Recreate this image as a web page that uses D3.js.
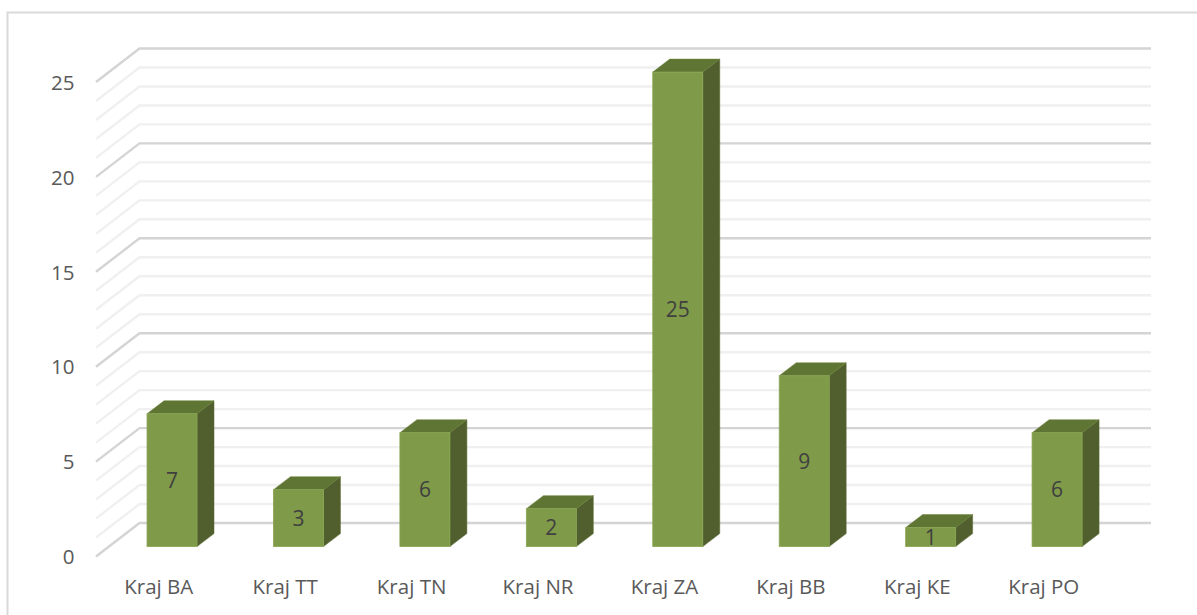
<!DOCTYPE html>
<html><head><meta charset="utf-8">
<script src="https://cdn.jsdelivr.net/npm/d3@7"></script>
<style>html,body{margin:0;padding:0;background:#fff;overflow:hidden}svg{display:block}text{font-family:"Open Sans",sans-serif}</style>
</head><body><svg id="c" width="1197" height="615"></svg>
<script>
const categories=["Kraj BA","Kraj TT","Kraj TN","Kraj NR","Kraj ZA","Kraj BB","Kraj KE","Kraj PO"];
const values=[7,3,6,2,25,9,1,6];
const gridValues=d3.range(0,26);
const tickValues=[0,5,10,15,20,25];
const svg=d3.select("#c");
const depthX=43.5, depthY=33.5;
const x=d3.scaleBand().domain(categories).range([96,1107.5]).paddingInner(0).paddingOuter(0);
const y=d3.scaleLinear().domain([0,25]).range([556.5,82]);
const wallRight=1151;
// frame
svg.append("path").attr("d","M7.5,615V12.5H1197").attr("fill","none").attr("stroke","#d9d9d9").attr("stroke-width",2);
// grid
svg.append("g").selectAll("path").data(gridValues).join("path")
 .attr("d",v=>`M${x.range()[0]},${y(v)}L${x.range()[0]+depthX},${y(v)-depthY}H${wallRight}`)
 .attr("fill","none").attr("stroke-width",2.4)
 .attr("stroke",v=>v%5===0?"#d4d4d4":"#f0f0f0");
// bars
const barW=50, bDX=17, bDY=13, barOff=12.8, base=546.6;
const cx=c=>x(c)+x.bandwidth()/2+barOff;
const barTop=v=>base-(y(0)-y(v));
const g=svg.append("g").selectAll("g").data(categories.map((c,i)=>({c,v:values[i]}))).join("g");
g.append("path").attr("fill","#505f2d").attr("stroke","#5a6b33").attr("stroke-width",.5)
 .attr("d",d=>{const r=cx(d.c)+barW/2;return `M${r},${base}L${r+bDX},${base-bDY}V${barTop(d.v)-bDY}L${r},${barTop(d.v)}Z`});
g.append("path").attr("fill","#5f7534").attr("stroke","#6a8039").attr("stroke-width",.5)
 .attr("d",d=>{const l=cx(d.c)-barW/2,r=l+barW,t=barTop(d.v);return `M${l},${t}L${l+bDX},${t-bDY}H${r+bDX}L${r},${t}Z`});
g.append("rect").attr("fill","#7f9a48").attr("stroke","#8aa653").attr("stroke-width",.8)
 .attr("x",d=>cx(d.c)-barW/2).attr("width",barW).attr("y",d=>barTop(d.v)).attr("height",d=>base-barTop(d.v));
g.append("text").text(d=>d.v).attr("x",d=>cx(d.c)).attr("y",d=>(base+barTop(d.v))/2-0.5)
 .attr("text-anchor","middle").attr("dominant-baseline","central").attr("font-size",21).attr("fill","#404040");
// y axis labels
svg.append("g").selectAll("text").data(tickValues).join("text").text(d=>d)
 .attr("x",74.5).attr("y",d=>y(d)-0.3).attr("text-anchor","end").attr("dominant-baseline","central")
 .attr("font-size",20.5).attr("fill","#595959");
// x axis labels
svg.append("g").selectAll("text").data(categories).join("text").text(d=>d)
 .attr("x",d=>x(d)+x.bandwidth()/2-0.5).attr("y",586).attr("text-anchor","middle").attr("dominant-baseline","central")
 .attr("font-size",20.5).attr("fill","#595959");
</script></body></html>
